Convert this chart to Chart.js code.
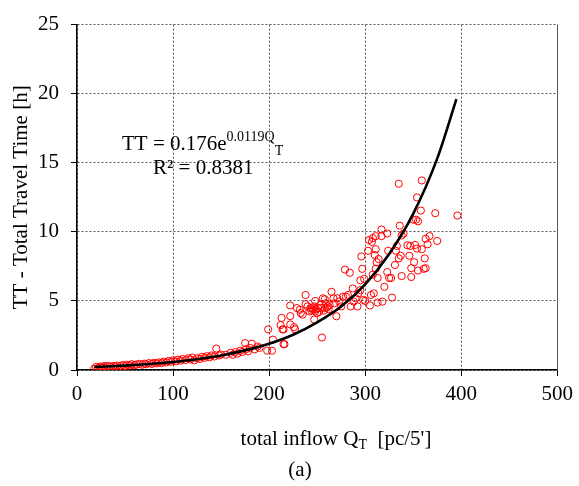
<!DOCTYPE html>
<html>
<head>
<meta charset="utf-8">
<script src="https://cdn.jsdelivr.net/npm/chart.js@4"></script>
<style>
  html, body { margin: 0; padding: 0; background: #fff; }
  #wrap { width: 579px; height: 486px; position: relative; }
</style>
</head>
<body>
<div id="wrap"><canvas id="grafico"></canvas></div>
<script>
const inflowLow = [18,20,22,24,25,27,28,30,32,35,38,40,42,45,48,50,52,55,57,60,62,65,68,70,72,75,78,80,83,85,88,90,93,95,98,100,103,105,108,110,113,116,118,120,122,125,128,130,133,135,138,140,143,145,148,150,155,160,162,165,167,170,172,175,176,178,180,182,185,188,190];
const ttLow = [0.10,0.22,0.12,0.25,0.18,0.20,0.28,0.22,0.30,0.24,0.30,0.26,0.32,0.30,0.36,0.28,0.38,0.33,0.42,0.35,0.40,0.44,0.38,0.46,0.42,0.50,0.44,0.52,0.48,0.55,0.50,0.60,0.55,0.65,0.60,0.70,0.62,0.75,0.68,0.80,0.72,0.85,0.76,0.90,0.70,0.85,0.80,0.95,0.88,1.00,0.92,1.05,0.98,1.55,1.05,1.12,1.10,1.25,1.10,1.30,1.18,1.40,1.30,1.95,1.50,1.35,1.60,1.90,1.50,1.70,1.60];

const inflowMid = [199,198,203,204,213,212,214,215,215,216,222,222,222,226,227,229,232,233,235,238,238,240,242,243,244,245,246,247,248,248,247,249,250,251,252,253,254,255,256,257,258,258,259,260,261,262,263,265,267,268,270,271,273,275,277,279,280,282,284,285,287,288,290,292,293,295,295,296,297,298,299,300];
const ttMid = [2.94,1.40,1.40,2.20,3.77,3.25,2.94,2.94,1.87,1.87,3.30,4.67,3.90,3.10,2.94,4.48,4.36,4.12,4.00,5.43,4.76,4.60,4.24,4.48,4.30,4.50,4.36,4.60,5.00,4.24,3.65,4.40,4.12,4.48,4.20,4.71,4.50,2.35,5.19,4.30,4.48,5.12,4.83,4.50,4.60,4.40,4.71,5.66,5.19,4.83,3.89,5.19,4.95,4.60,5.31,7.27,5.31,5.43,7.04,4.60,5.90,4.95,5.19,4.60,5.55,6.49,5.78,8.22,7.32,5.07,6.60,5.00];

const inflowHigh = [303,304,305,306,307,308,308,309,310,311,311,311,312,313,313,314,317,317,318,320,323,323,324,325,327,328,331,332,333,335,335,336,337,338,338,340,344,346,347,348,348,350,351,352,353,354,354,355,355,358,359,359,361,362,363,363,365,367,373,375,396];
const ttHigh = [8.63,9.40,4.67,5.43,9.27,9.55,6.90,5.55,8.32,8.74,9.69,7.32,7.80,6.66,4.88,8.03,10.17,9.69,4.95,6.02,9.88,7.09,8.63,6.66,6.66,5.24,7.60,8.63,8.98,13.48,8.08,10.45,8.27,6.80,9.74,9.88,9.03,8.27,8.98,7.37,6.73,10.88,7.80,9.05,10.88,12.49,8.79,10.76,7.20,11.54,13.72,8.74,7.32,8.08,7.37,9.50,9.10,9.69,11.35,9.34,11.18];

// fitted exponential curve
const fitInflow = [18,25,50,75,100,125,150,175,200,225,250,275,300,325,350,375,395];
const fitTT = [0.22,0.24,0.32,0.43,0.58,0.78,1.05,1.42,1.90,2.55,3.45,4.60,6.20,8.40,11.30,15.30,19.60];

const serif = "'Liberation Serif', 'Times New Roman', serif";

function pontos(xs, ys) {
  return xs.map((x, i) => ({ x: x, y: ys[i] }));
}

const observados = [].concat(
  pontos(inflowLow, ttLow),
  pontos(inflowMid, ttMid),
  pontos(inflowHigh, ttHigh)
);

// titles + equation text (needs sub/superscripts, so drawn by hand)
const textos = {
  id: "textos",
  afterDraw(chart) {
    const c = chart.ctx;
    const a = chart.chartArea;
    c.save();
    c.fillStyle = "#000";
    c.textBaseline = "alphabetic";

    // right border
    c.strokeStyle = "#555";
    c.lineWidth = 1;
    c.beginPath();
    c.moveTo(Math.round(a.right) + 0.5, a.top);
    c.lineTo(Math.round(a.right) + 0.5, a.bottom);
    c.stroke();

    // y title
    c.font = "21px " + serif;
    c.save();
    c.translate(27, (a.top + a.bottom) / 2);
    c.rotate(-Math.PI / 2);
    c.textAlign = "center";
    c.fillText("TT - Total Travel Time [h]", 0, 0);
    c.restore();

    // x title with subscript
    const p1 = "total inflow Q";
    const p2 = "T";
    const p3 = "  [pc/5']";
    c.font = "21px " + serif;
    const w1 = c.measureText(p1).width;
    const w3 = c.measureText(p3).width;
    c.font = "14px " + serif;
    const w2 = c.measureText(p2).width;
    let x = 336 - (w1 + w2 + w3) / 2;
    c.textAlign = "left";
    c.font = "21px " + serif;
    c.fillText(p1, x, 445);
    c.font = "14px " + serif;
    c.fillText(p2, x + w1, 449);
    c.font = "21px " + serif;
    c.fillText(p3, x + w1 + w2, 445);

    c.textAlign = "center";
    c.fillText("(a)", 300, 476);

    // equation
    c.textAlign = "left";
    const e1 = "TT = 0.176e";
    c.font = "21px " + serif;
    const we = c.measureText(e1).width;
    c.fillText(e1, 122, 150);
    c.font = "14px " + serif;
    const sup = "0.0119Q";
    const ws = c.measureText(sup).width;
    c.fillText(sup, 122 + we, 141);
    c.fillText("T", 122 + we + ws, 155);
    c.font = "21px " + serif;
    c.fillText("R\u00b2 = 0.8381", 153, 174);
    c.restore();
  }
};

const ctx = document.getElementById("grafico").getContext("2d");

let grafico = new Chart(ctx, {
  type: "scatter",
  data: {
    datasets: [
      {
        label: "fit",
        type: "line",
        data: pontos(fitInflow, fitTT),
        borderColor: "#000",
        borderWidth: 2.6,
        pointRadius: 0,
        fill: false,
        cubicInterpolationMode: "monotone",
        order: 0,
      },
      {
        label: "TT",
        data: observados,
        borderColor: "#ff0000",
        backgroundColor: "rgba(0,0,0,0)",
        borderWidth: 1,
        pointRadius: 3.6,
        pointStyle: "circle",
        order: 1,
      },
    ],
  },
  options: {
    responsive: true,
    maintainAspectRatio: false,
    animation: false,
    devicePixelRatio: 1,
    layout: { padding: { top: 18, right: 20, left: 0, bottom: 0 } },
    plugins: {
      legend: { display: false },
      tooltip: { enabled: false },
    },
    scales: {
      x: {
        type: "linear",
        min: 0,
        max: 500,
        ticks: {
          stepSize: 100,
          color: "#000",
          padding: 6,
          font: { family: serif, size: 21 },
        },
        grid: {
          color: "#555",
          lineWidth: 1,
          tickColor: "#000",
          tickLength: 6,
          tickBorderDash: [],
        },
        border: { color: "#000", width: 1.5, dash: [2, 2] },
        afterFit(scale) { scale.height = 116; },
      },
      y: {
        type: "linear",
        min: 0,
        max: 25,
        ticks: {
          stepSize: 5,
          color: "#000",
          padding: 12,
          font: { family: serif, size: 21 },
        },
        grid: {
          color: "#555",
          lineWidth: 1,
          tickColor: "#000",
          tickLength: 6,
          tickBorderDash: [],
        },
        border: { color: "#000", width: 1.5, dash: [2, 2] },
        afterFit(scale) { scale.width = 77; },
      },
    },
  },
  plugins: [textos],
});
</script>
</body>
</html>
